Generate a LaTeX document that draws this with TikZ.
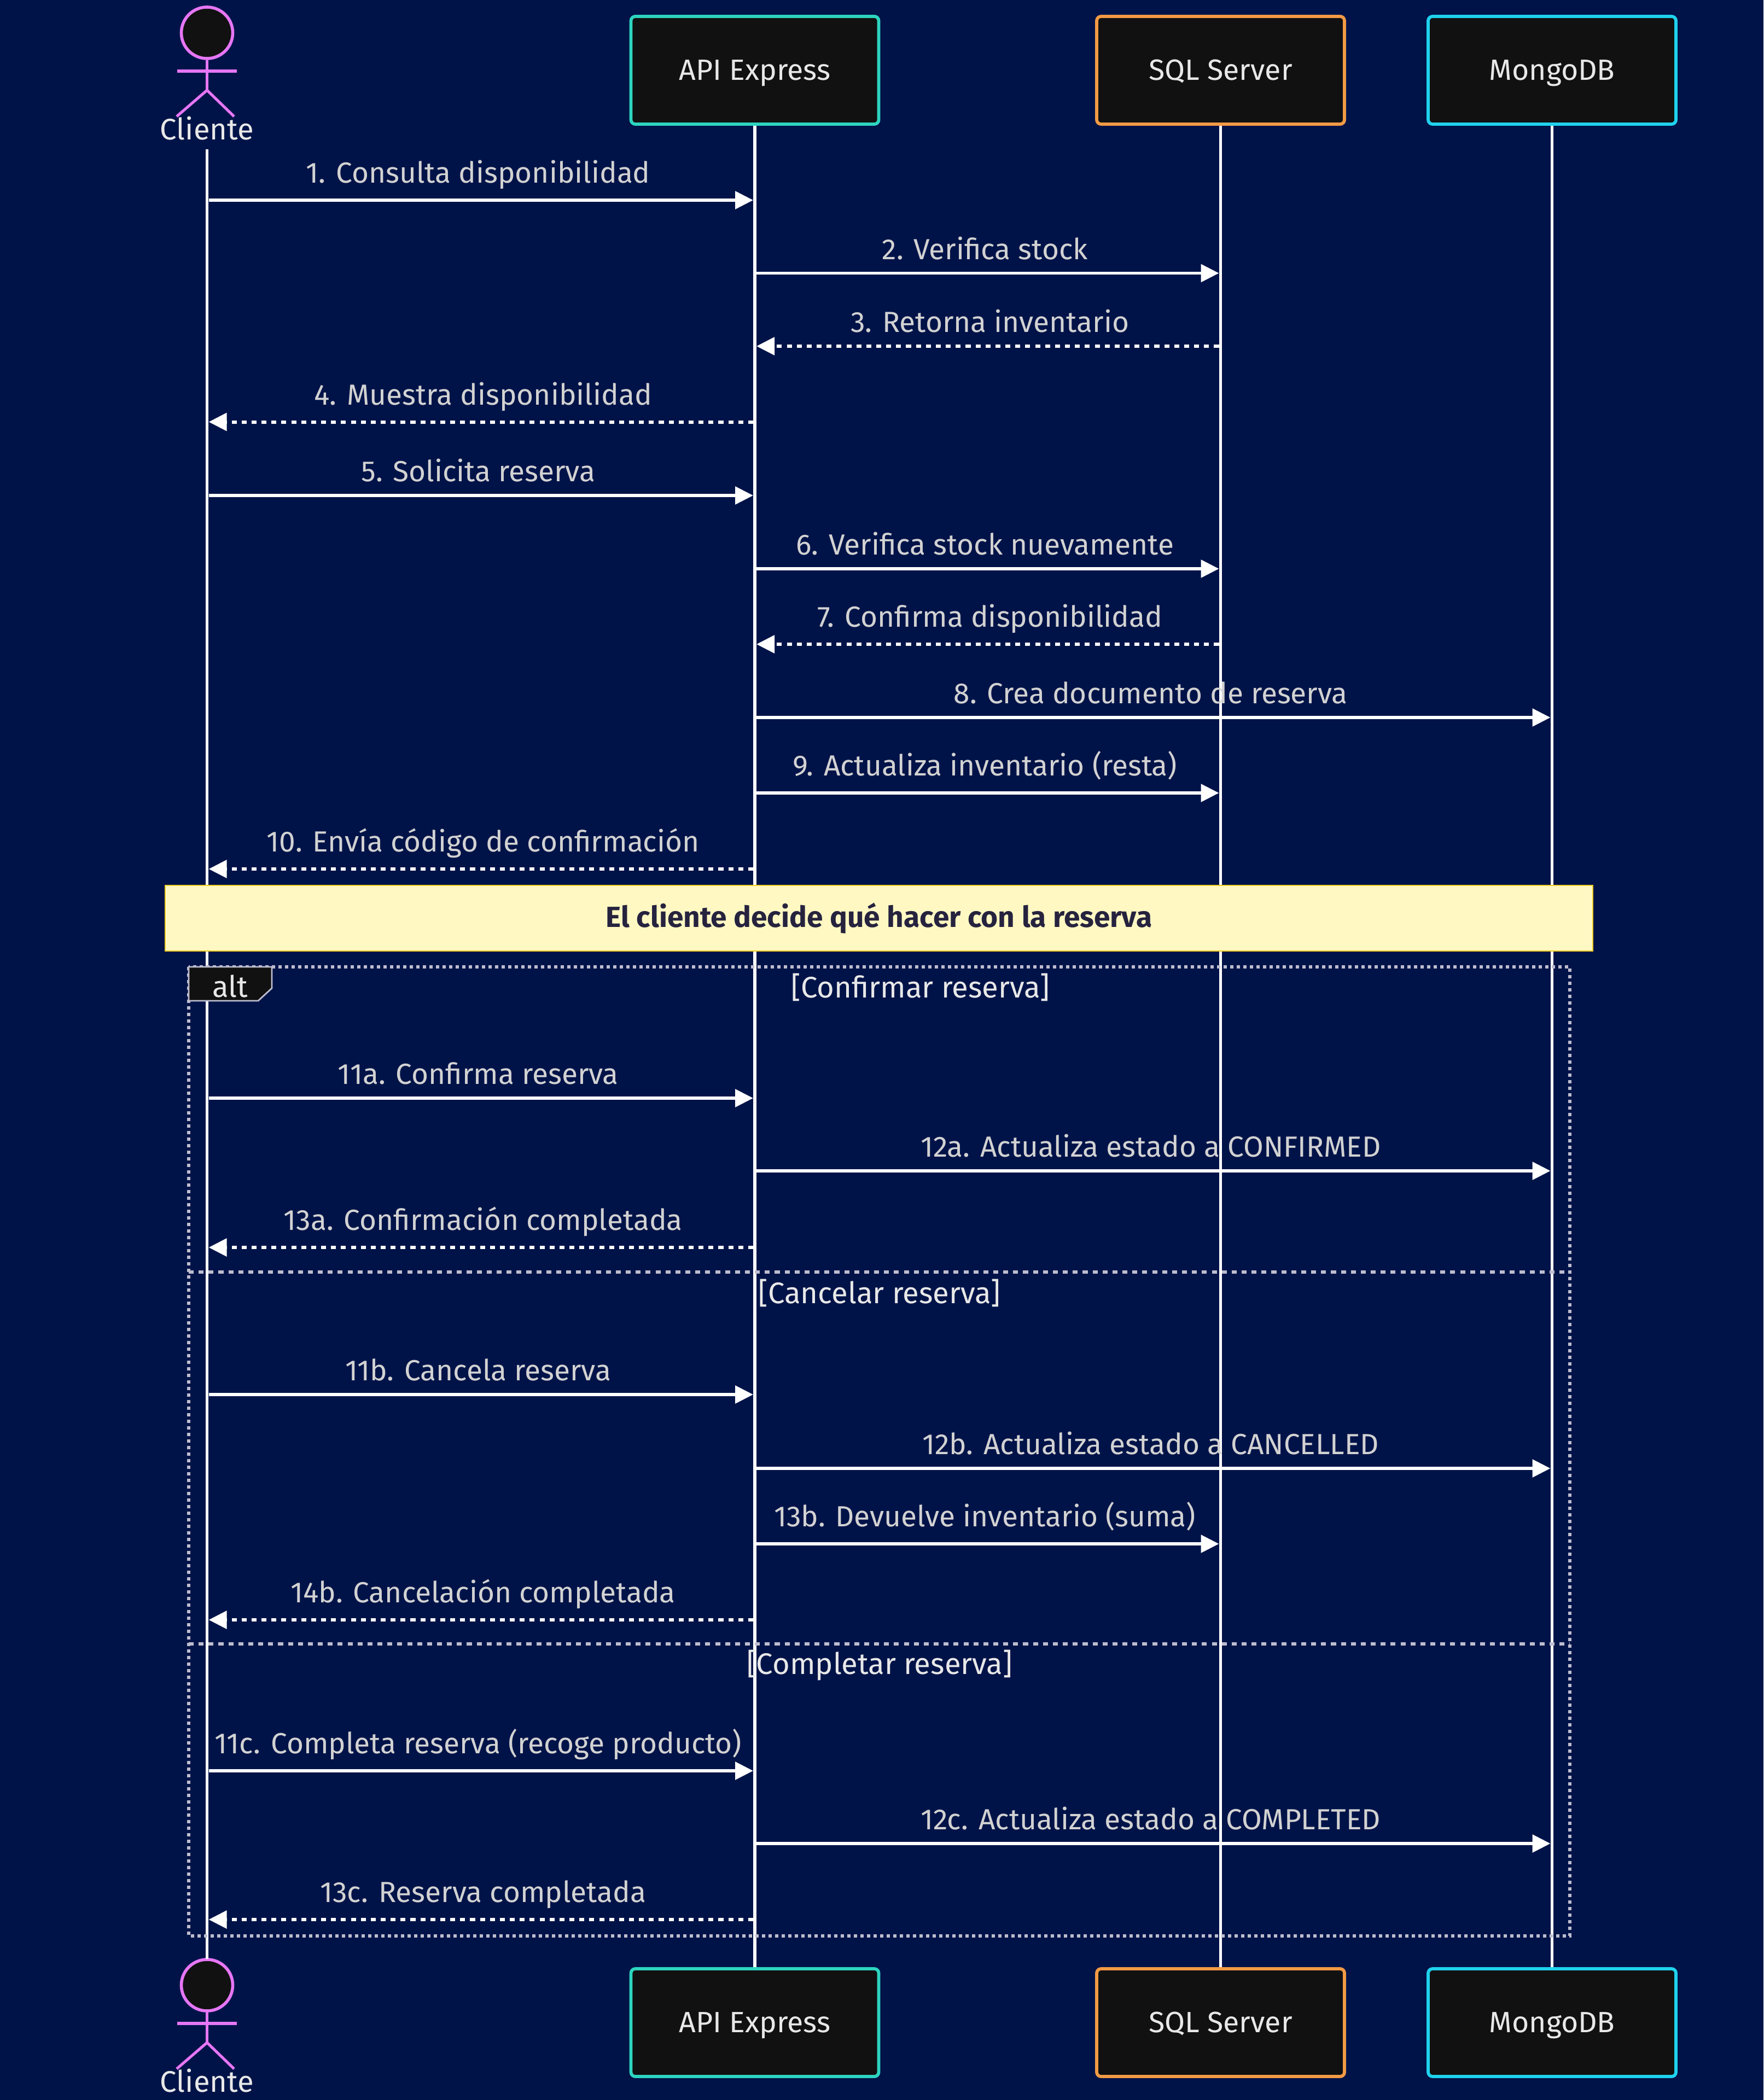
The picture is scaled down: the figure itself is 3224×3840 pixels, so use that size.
\documentclass[tikz,border=0pt]{standalone}
\usepackage{fontspec}
\setmainfont{Fira Sans}
\usepackage{tikz}
\usetikzlibrary{calc,arrows.meta,positioning}
\definecolor{pagebg}{HTML}{001348}
\definecolor{boxbg}{HTML}{111111}
\definecolor{boxtxt}{HTML}{E8E8E8}
\definecolor{msgtxt}{HTML}{D2D2D2}
\definecolor{framegrey}{HTML}{BDBDCF}
\definecolor{actorpink}{HTML}{E676F5}
\definecolor{apiteal}{HTML}{2DD4BF}
\definecolor{sqlorange}{HTML}{F29A45}
\definecolor{mongocyan}{HTML}{1FD2EE}
\definecolor{notefill}{HTML}{FFF8C2}
\definecolor{noteedge}{HTML}{F0CC20}
\definecolor{notetxt}{HTML}{26233F}

\begin{document}
\begin{tikzpicture}[x=0.25pt,y=-0.25pt]

\tikzset{sysnode/.style={font=\fontsize{13.4pt}{16pt}\selectfont,text=boxtxt,fill=boxbg,line width=1.45pt,rounded corners=2pt,inner sep=0pt,minimum width=113.25pt,minimum height=49.25pt,text height=11.5pt,text depth=2.7pt,shape=rectangle,draw},
lifeline/.style={draw=white,line width=1.45pt},
msgtext/.style={font=\fontsize{13.3pt}{16pt}\selectfont,text=msgtxt,anchor=base,inner sep=0pt,yshift=-0.4pt},
solidmsg/.style={draw=white,line width=1.45pt,shorten <=0.75pt,shorten >=0.75pt,-{Triangle[length=8.25pt,width=8pt]},every node/.append style={xshift=-1.25pt}},
dashmsg/.style={draw=white,line width=1.5pt,dash pattern=on 2.27pt off 2.27pt,shorten <=0.75pt,shorten >=0.75pt,-{Triangle[length=8.25pt,width=8pt]},every node/.append style={xshift=1pt}},
altframe/.style={draw=framegrey,line width=1.4pt,dash pattern=on 1.5pt off 1.5pt},
altsplit/.style={draw=framegrey,line width=1.4pt,dash pattern=on 2.27pt off 2.27pt},
sectext/.style={font=\fontsize{13.6pt}{16pt}\selectfont,text=boxtxt,inner sep=0pt},
actorline/.style={draw=actorpink,line width=1.25pt}}

% Page
\fill[pagebg] (0,0) rectangle (3224,3840);
\useasboundingbox (0,0) rectangle (3224,3840);

% Participants
\node[sysnode,draw=apiteal] (api) at (1380,128.5) {API Express};
\node[sysnode,draw=sqlorange] (sql) at (2231.5,128.5) {SQL Server};
\node[sysnode,draw=mongocyan] (mongo) at (2837.5,128.5) {MongoDB};
\node[sysnode,draw=apiteal] (apiB) at (1380,3698.5) {API Express};
\node[sysnode,draw=sqlorange] (sqlB) at (2231.5,3698.5) {SQL Server};
\node[sysnode,draw=mongocyan] (mongoB) at (2837.5,3698.5) {MongoDB};

% Actor, top and bottom
\foreach \nm/\dy in {cli/0,cliB/3570} {
\node[circle,fill=boxbg,draw=actorpink,line width=1.4pt,minimum size=23.5pt,inner sep=0pt] (\nm Head) at (378.5,60+\dy) {};
\coordinate (\nm Hip) at (378.5,165+\dy);
\coordinate (\nm ArmL) at (324,130+\dy); \coordinate (\nm ArmR) at (433,130+\dy);
\coordinate (\nm LegL) at (323,213+\dy); \coordinate (\nm LegR) at (428,213+\dy);
\draw[actorline] (\nm Head) -- (\nm Hip);
\draw[actorline,line width=1.5pt] (\nm ArmL) -- (\nm ArmR);
\draw[actorline] (\nm LegL) -- (\nm Hip) -- (\nm LegR);
\node[sectext] (\nm Name) at (378.5,235+\dy) {Cliente};
}

% Lifelines
\coordinate (cli) at (378.5,273); \coordinate (cliEnd) at (378.5,3582);
\draw[lifeline] (cli) -- (cliEnd);
\draw[lifeline] (api) ++(0,101.5) -- (apiB.north);
\draw[lifeline] (sql) ++(0,101.5) -- (sqlB.north);
\draw[lifeline] (mongo) ++(0,101.5) -- (mongoB.north);

% Messages
\foreach \n/\y/\off/\a/\b/\st/\lab in {
1/366/33/cli/api/solidmsg/{1. Consulta disponibilidad},
2/499.5/27/api/sql/solidmsg/{2. Verifica stock},
3/633/27/sql/api/dashmsg/{3. Retorna inventario},
4/771.5/33/api/cli/dashmsg/{4. Muestra disponibilidad},
5/906/27/cli/api/solidmsg/{5. Solicita reserva},
6/1040/27/api/sql/solidmsg/{6. Verifica stock nuevamente},
7/1178/33/sql/api/dashmsg/{7. Confirma disponibilidad},
8/1312/27/api/mongo/solidmsg/{8. Crea documento de reserva},
9/1450/33/api/sql/solidmsg/{9. Actualiza inventario (resta)},
10/1589/33/api/cli/dashmsg/{10. Envía código de confirmación},
11/2008/27/cli/api/solidmsg/{11a. Confirma reserva},
12/2141/27/api/mongo/solidmsg/{12a. Actualiza estado a CONFIRMED},
13/2281/33/api/cli/dashmsg/{13a. Confirmación completada},
14/2550/27/cli/api/solidmsg/{11b. Cancela reserva},
15/2685/27/api/mongo/solidmsg/{12b. Actualiza estado a CANCELLED},
16/2823/33/api/sql/solidmsg/{13b. Devuelve inventario (suma)},
17/2962/33/api/cli/dashmsg/{14b. Cancelación completada},
18/3238/33/cli/api/solidmsg/{11c. Completa reserva (recoge producto)},
19/3371/27/api/mongo/solidmsg/{12c. Actualiza estado a COMPLETED},
20/3510/33/api/cli/dashmsg/{13c. Reserva completada}} {
\coordinate (s\n) at (\a |- 0,\y);
\coordinate (e\n) at (\b |- 0,\y);
\draw[\st] (s\n) -- node[msgtext,yshift=\off*0.25pt] {\lab} (e\n);
}

% Note
\node[rectangle,fill=notefill,draw=noteedge,line width=.6pt,minimum width=652.5pt,minimum height=30pt,inner sep=0pt,text=notetxt,font=\fontsize{13.3pt}{16pt}\selectfont\bfseries] (note) at (1607,1679) {El cliente decide qué hacer con la reserva};

% Alt frame
\coordinate (frameTL) at (345,1768); \coordinate (frameBR) at (2870,3540);
\draw[altframe] (frameTL) rectangle (frameBR);
\foreach \y in {2326,3006} \draw[altsplit] (frameTL |- 0,\y) -- (frameBR |- 0,\y);
\draw[fill=boxbg,draw=framegrey,line width=.7pt] (frameTL) -- (497,1768) -- (497,1807) -- (472,1830) -- (345,1830) -- cycle;
\node[sectext] (altLabel) at (421,1803) {alt};
\node[sectext] (secA) at (1683,1805.5) {[Confirmar reserva]};
\node[sectext] (secB) at (1608,2364) {[Cancelar reserva]};
\node[sectext] (secC) at (1608,3045) {[Completar reserva]};

\end{tikzpicture}
\end{document}
